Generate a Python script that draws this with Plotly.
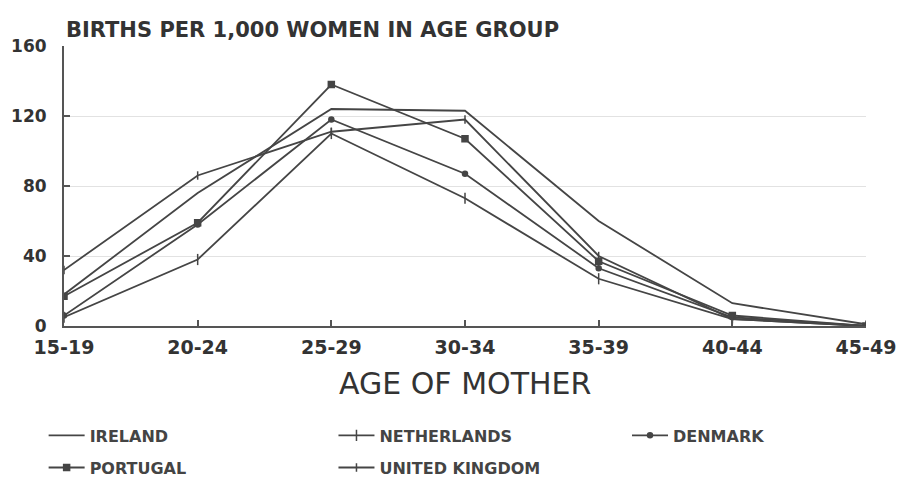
import plotly.graph_objects as go

ages = ["15-19", "20-24", "25-29", "30-34", "35-39", "40-44", "45-49"]
ireland = [18, 76, 124, 123, 60, 13, 1]
netherlands = [5, 38, 110, 73, 27, 4, 0]
denmark = [6, 58, 118, 87, 33, 5, 0]
portugal = [17, 59, 138, 107, 37, 6, 0]
uk = [32, 86, 111, 118, 40, 4, 0]
y_ticks = [0, 40, 80, 120, 160]

LINE = "#454545"
FONT = "DejaVu Sans"

fig = go.Figure()

def add(name, vals, symbol, size, legend):
    fig.add_trace(go.Scatter(
        x=ages, y=vals, name=name, legend=legend, showlegend=True,
        mode="lines" if symbol is None else "lines+markers",
        line=dict(color=LINE, width=1.8),
        marker=dict(symbol=symbol or "circle", size=size, color=LINE,
                    line=dict(color=LINE, width=1.5)),
    ))

add("IRELAND", ireland, None, 0, "legend")
add("NETHERLANDS", netherlands, "line-ns", 8, "legend2")
add("DENMARK", denmark, "circle", 5, "legend3")
add("PORTUGAL", portugal, "square", 6, "legend4")
add("UNITED KINGDOM", uk, "line-ns", 6, "legend5")

legend_font = dict(family=FONT, size=16, color="#444", weight="bold")

def leg(x, y):
    return dict(orientation="h", x=x, xanchor="left", y=y, yanchor="top",
                itemwidth=36, font=legend_font, bgcolor="rgba(0,0,0,0)")

row1, row2 = -0.33, -0.445
col1, col2, col3 = -0.0254, 0.336, 0.702

fig.update_layout(
    width=903, height=478, showlegend=True,
    margin=dict(l=64, r=37, t=46, b=152, autoexpand=False),
    paper_bgcolor="white", plot_bgcolor="white",
    font=dict(family=FONT, color="#333"),
    xaxis=dict(
        type="category", range=[0, 6], automargin=False,
        showline=True, linecolor="#555", linewidth=2,
        ticks="inside", ticklen=6, tickcolor="#555", tickwidth=1.5,
        tickfont=dict(family=FONT, size=19, color="#333", weight="bold"),
        ticklabelstandoff=3,
        showgrid=False, zeroline=False,
    ),
    yaxis=dict(
        range=[0, 160], tickvals=y_ticks, automargin=False,
        showline=True, linecolor="#555", linewidth=2,
        ticks="inside", ticklen=6, tickcolor="#555", tickwidth=1.5,
        tickfont=dict(family=FONT, size=17, color="#333", weight="bold"),
        ticklabelstandoff=12,
        showgrid=True, gridcolor="#e2e2e2", gridwidth=1, zeroline=False,
    ),
    legend=leg(col1, row1),
    legend2=leg(col2, row1),
    legend3=leg(col3, row1),
    legend4=leg(col1, row2),
    legend5=leg(col2, row2),
    annotations=[
        dict(text="BIRTHS PER 1,000 WOMEN IN AGE GROUP", xref="paper", yref="paper",
             x=0, y=1, xanchor="left", yanchor="bottom", yshift=2, showarrow=False,
             font=dict(family=FONT, size=21, color="#333", weight="bold")),
        dict(text="AGE OF MOTHER", xref="paper", yref="paper",
             x=0.5, y=-0.204, xanchor="center", yanchor="middle", showarrow=False,
             font=dict(family=FONT, size=30, color="#333")),
    ],
)

fig.write_html("out.html", config={"displayModeBar": False},
               post_script="document.body.style.margin='0';")
